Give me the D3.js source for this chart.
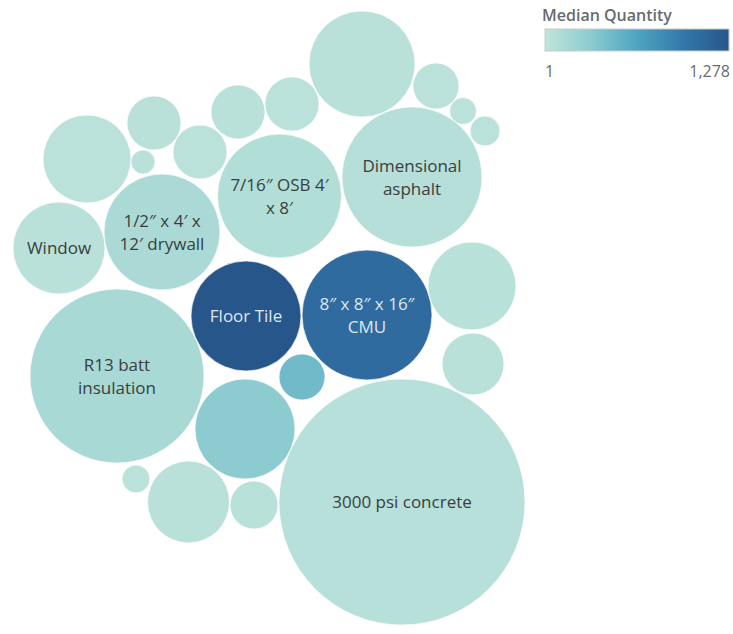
<!DOCTYPE html>
<html>
<head>
<meta charset="utf-8">
<script src="https://cdn.jsdelivr.net/npm/d3@7"></script>
<style>
  body { margin: 0; background: #ffffff; }
  svg text { font-family: "Open Sans", "Noto Sans", sans-serif; }
</style>
</head>
<body>
<svg id="chart" width="733" height="634"></svg>
<script>
// Material labels (empty where the bubble is too small to carry a label)
const labels = [
  "", "", "", "", "", "", "", "", "", "",
  "7/16\u2033 OSB 4\u2032\nx 8\u2032",
  "Dimensional\nasphalt",
  "1/2\u2033 x 4\u2032 x\n12\u2032 drywall",
  "Window",
  "Floor Tile",
  "8\u2033 x 8\u2033 x 16\u2033\nCMU",
  "", "",
  "R13 batt\ninsulation",
  "", "",
  "3000 psi concrete",
  "", "", ""
];

// Bubble size measure (area-proportional)
const sizeValues = [
  562, 106, 36, 45, 146, 146, 146, 387, 29, 146,
  769, 980, 673, 423, 605, 845, 387, 192, 1514, 106,
  500, 3026, 39, 336, 115
];

// Colour measure
const medianQuantity = [
  45, 40, 35, 40, 45, 40, 45, 40, 45, 40,
  90, 70, 130, 45, 1278, 1080, 50, 45, 150, 460,
  320, 60, 40, 45, 50
];

// Packed-bubble layout positions (layout units, origin at cluster centre)
const packX = [
  94, 168, 195, 217, -30, 24, -114, -181, -125, -68,
  11.5, 144, -106, -209, -22, 99, 204, 205, -151, 34,
  -23, 134, -132, -79.5, -14
];
const packY = [
  -254, -232, -207, -187, -206, -214, -195, -159, -156, -166,
  -122, -141, -86, -70, -2, -3, -32, 46, 58, 59,
  111, 184, 161, 184, 187
];

// Legend
const legendTitle = "Median Quantity";
const legendMin = 1;
const legendMax = 1278;

const colorStops = ["#c0e5db", "#8ccbcf", "#4ea4c1", "#3478ab", "#27568a"];

const W = 733, H = 634;
const svg = d3.select("#chart");

const data = labels.map((label, i) => ({
  label, size: sizeValues[i], qty: medianQuantity[i], px: packX[i], py: packY[i]
}));

const x = d3.scaleLinear().domain([-268, 465]).range([0, W]);
const y = d3.scaleLinear().domain([-318, 316]).range([0, H]);
const r = d3.scaleSqrt().domain([0, d3.max(sizeValues)]).range([0, 123]);

const color = d3.scaleLinear()
  .domain(d3.range(colorStops.length).map(i => legendMin + (legendMax - legendMin) * i / (colorStops.length - 1)))
  .range(colorStops)
  .interpolate(d3.interpolateRgb);

const bubbles = svg.append("g").attr("class", "bubbles")
  .selectAll("g")
  .data(data)
  .join("g")
  .attr("transform", d => `translate(${x(d.px)},${y(d.py)})`);

bubbles.append("circle")
  .attr("r", d => r(d.size))
  .attr("fill", d => color(d.qty))
  .attr("stroke", "#ffffff")
  .attr("stroke-opacity", 0.7)
  .attr("stroke-width", 1);

const fontSize = 17, lineH = 23;
bubbles.filter(d => d.label !== "")
  .each(function (d) {
    const lines = d.label.split("\n");
    const dark = d.qty > 700;
    const t = d3.select(this).append("text")
      .attr("text-anchor", "middle")
      .attr("font-size", fontSize)
      .attr("fill", dark ? "#dfe8f0" : "#3a3e40");
    lines.forEach((ln, i) => {
      t.append("tspan")
        .attr("x", 0)
        .attr("y", (i - (lines.length - 1) / 2) * lineH + fontSize * 0.36)
        .text(ln);
    });
  });

// Colour legend
const lg = svg.append("g").attr("class", "legend");
lg.append("text")
  .attr("x", 542).attr("y", 21)
  .attr("font-size", 16).attr("font-weight", 600)
  .attr("fill", "#676c6f")
  .text(legendTitle);

const grad = svg.append("defs").append("linearGradient").attr("id", "qtyGrad");
colorStops.forEach((c, i) => {
  grad.append("stop").attr("offset", `${100 * i / (colorStops.length - 1)}%`).attr("stop-color", c);
});
lg.append("rect")
  .attr("x", 545).attr("y", 29).attr("width", 184).attr("height", 22)
  .attr("fill", "url(#qtyGrad)")
  .attr("stroke", "#c9cccc").attr("stroke-width", 1);

const fmt = d3.format(",");
lg.append("text").attr("x", 545).attr("y", 77)
  .attr("font-size", 16).attr("fill", "#676c6f").text(fmt(legendMin));
lg.append("text").attr("x", 730).attr("y", 77).attr("text-anchor", "end")
  .attr("font-size", 16).attr("fill", "#676c6f").text(fmt(legendMax));
</script>
</body>
</html>
